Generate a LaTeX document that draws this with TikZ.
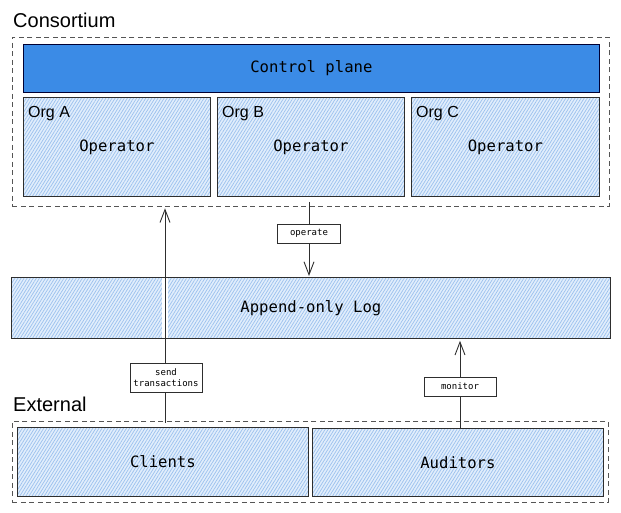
\documentclass[tikz,border=0pt]{standalone}
\usepackage{fontspec}
\setmainfont{Liberation Sans}
\newfontfamily\monof{DejaVu Sans Mono}
\usetikzlibrary{patterns.meta,arrows.meta}
\definecolor{hatchbg}{HTML}{E2EEFC}
\definecolor{hatchln}{HTML}{9DC2EE}
\definecolor{ctrlblue}{HTML}{3B8BE6}
\definecolor{edgecol}{HTML}{2E2E2E}
\definecolor{dashcol}{HTML}{555555}
\tikzset{
  hatchbox/.style={draw=edgecol, line width=0.8pt, anchor=north west, inner sep=0pt,
    preaction={fill=hatchbg},
    pattern={Lines[angle=58, distance=2.6pt, line width=0.75pt]}, pattern color=hatchln,
    font=\monof\fontsize{15.6}{18}\selectfont},
  ctrlbox/.style={draw=black!80!blue, line width=0.8pt, anchor=north west, inner sep=0pt,
    fill=ctrlblue, font=\monof\fontsize{15.6}{18}\selectfont},
  groupbox/.style={draw=dashcol, line width=0.8pt, dash pattern=on 5pt off 3.5pt,
    anchor=north west, inner sep=0pt},
  grouptitle/.style={anchor=base west, inner sep=0pt, font=\fontsize{20}{24}\selectfont},
  orgtitle/.style={anchor=base west, inner sep=0pt, font=\fontsize{16}{19}\selectfont},
  edgelabel/.style={draw=edgecol, fill=white, line width=0.8pt, inner sep=0pt,
    align=center, font=\monof\fontsize{9}{11}\selectfont},
  arr/.style={draw=edgecol, line width=0.9pt, -{Straight Barb[length=13pt,width=10pt]}},
}
\begin{document}
\begin{tikzpicture}[x=1pt,y=-1pt]
\useasboundingbox (0,0) rectangle (621,513);

% Consortium
\node[grouptitle] (constitle) at (13,28) {Consortium};
\node[groupbox, minimum width=597pt, minimum height=169pt] (consortium) at (12,37) {};
\node[ctrlbox, minimum width=576pt, minimum height=48pt] (ctrl) at (23,44) {Control plane};
\node[hatchbox, minimum width=187pt, minimum height=99pt] (orgA) at (23,97) {Operator};
\node[hatchbox, minimum width=187pt, minimum height=99pt] (orgB) at (217,97) {Operator};
\node[hatchbox, minimum width=188pt, minimum height=99pt] (orgC) at (411,97) {Operator};
\node[orgtitle] (orgAt) at (28,118) {Org A};
\node[orgtitle] (orgBt) at (222,118) {Org B};
\node[orgtitle] (orgCt) at (416,118) {Org C};

% Log
\node[hatchbox, minimum width=599pt, minimum height=61pt] (log) at (11,277) {Append-only Log};

% External
\node[grouptitle] (exttitle) at (13,411) {External};
\node[groupbox, minimum width=596pt, minimum height=81pt] (external) at (12,421) {};
\node[hatchbox, minimum width=291pt, minimum height=69pt] (clients) at (17,427) {Clients};
\node[hatchbox, minimum width=291pt, minimum height=68pt] (auditors) at (312,428) {Auditors};

% connector x positions
\coordinate (sx) at (165,0);
\coordinate (mx) at (460,0);
\coordinate (ox) at (309,0);

% operate
\draw[arr, shorten <=5pt, shorten >=1pt] (orgB.south -| ox) -- (log.north -| ox);
\node[edgelabel, minimum width=63pt, minimum height=19pt] (oplab) at (309,233.5) {operate};

% send transactions (gap through the log)
\draw[white, line width=6pt] ([yshift=-1pt]log.north -| sx) -- ([yshift=1pt]log.south -| sx);
\draw[arr, shorten <=-2pt, shorten >=1.5pt] (external.north -| sx) -- (consortium.south -| sx);
\node[edgelabel, minimum width=72pt, minimum height=29pt] (sendlab) at (166,377.5) {send\\transactions};

% monitor
\draw[arr, shorten >=2pt] (auditors.north -| mx) -- (log.south -| mx);
\node[edgelabel, minimum width=72pt, minimum height=19pt] (monlab) at (460,386.5) {monitor};
\end{tikzpicture}
\end{document}
